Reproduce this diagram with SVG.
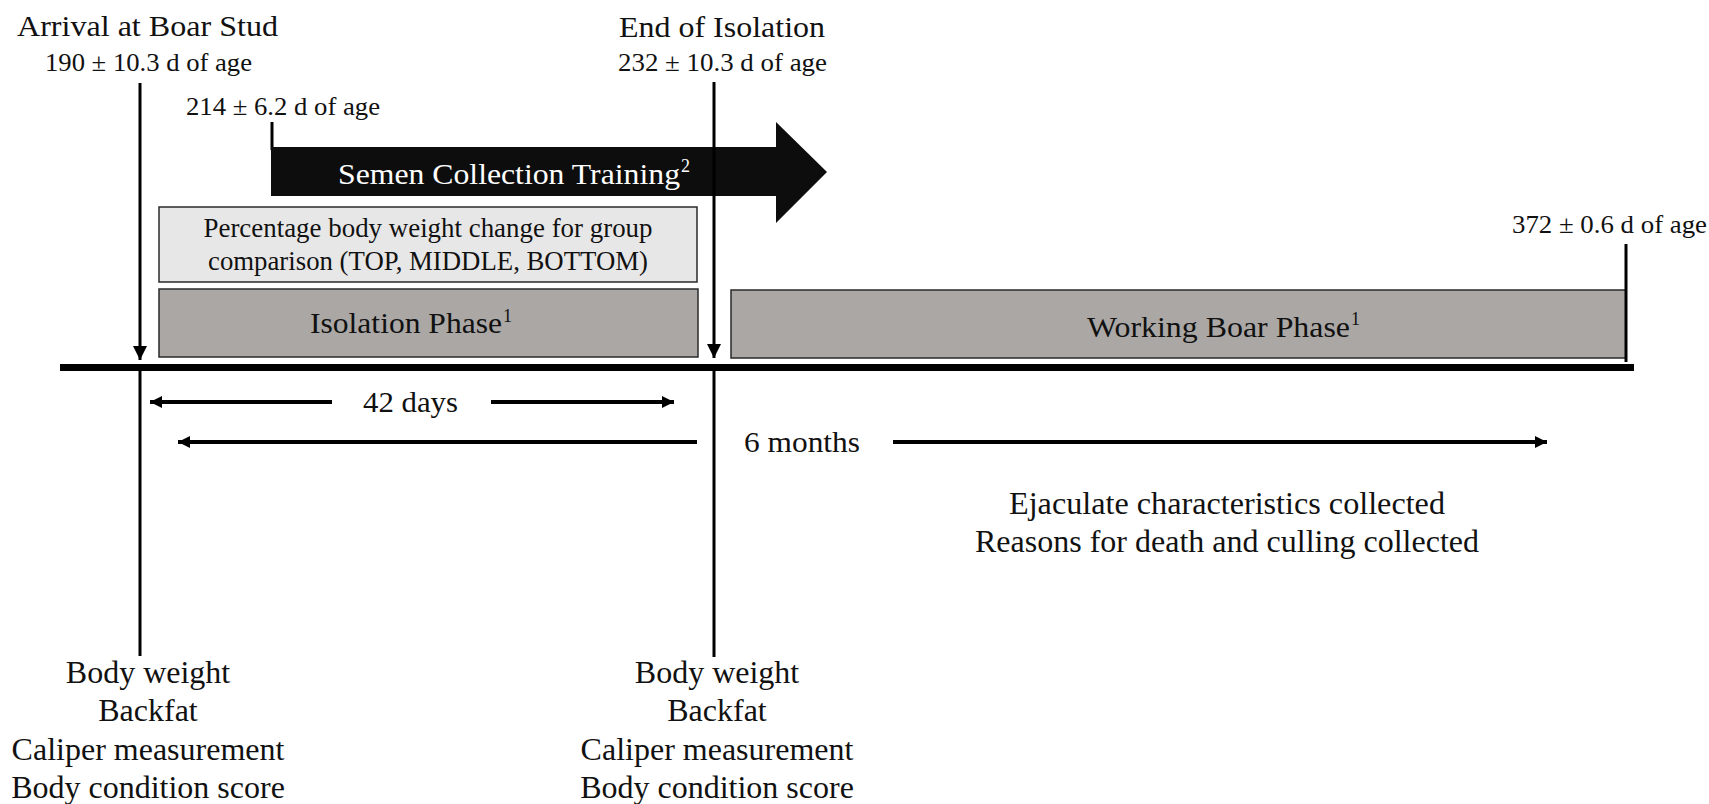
<svg xmlns="http://www.w3.org/2000/svg" width="1709" height="804" viewBox="0 0 1709 804">
<style>
text{font-family:"Liberation Serif","Times New Roman",serif;fill:#111;}
.t30{font-size:30px;}
.t26{font-size:26px;}
.t27{font-size:27px;}
.t32{font-size:32px;}
.mid{text-anchor:middle;}
.sup{font-size:18px;}
.ln{stroke:#000;stroke-width:3;fill:none;}
.arr{stroke:#000;stroke-width:4;fill:none;}
.phase{fill:#aaa7a5;stroke:#2a2a2a;stroke-width:1.5;}
.light{fill:#e8e7e7;stroke:#2a2a2a;stroke-width:1.5;}
</style>
<defs>
<marker id="ah" markerUnits="userSpaceOnUse" markerWidth="16" markerHeight="14" refX="14" refY="7" orient="auto">
<path d="M0,0 L14,7 L0,14 Z" fill="#000"/>
</marker>
<marker id="ahs" markerUnits="userSpaceOnUse" markerWidth="16" markerHeight="14" refX="12" refY="6" orient="auto">
<path d="M0,0 L12,6 L0,12 Z" fill="#000"/>
</marker>
</defs>
<rect width="1709" height="804" fill="#fff"/>

<g id="timeline">
<line x1="60" y1="367.5" x2="1634" y2="367.5" stroke="#000" stroke-width="7"/>
</g>

<g id="semen-training">
<line class="ln" x1="272" y1="122" x2="272" y2="150"/>
<path d="M271,147 L776,147 L776,122 L827,172 L776,223 L776,196 L271,196 Z" fill="#0d0d0d"/>
<text class="t30" x="338" y="184" fill="#fff" style="fill:#fff" textLength="342" lengthAdjust="spacingAndGlyphs">Semen Collection Training</text>
<text class="sup" x="681" y="172" style="fill:#fff">2</text>
<text class="t26" x="186" y="115" textLength="194" lengthAdjust="spacingAndGlyphs">214 ± 6.2 d of age</text>
</g>

<g id="weight-change">
<rect class="light" x="159" y="207" width="538" height="75"/>
<text class="t27 mid" x="428" y="237" textLength="449" lengthAdjust="spacingAndGlyphs">Percentage body weight change for group</text>
<text class="t27 mid" x="428" y="270" textLength="440" lengthAdjust="spacingAndGlyphs">comparison (TOP, MIDDLE, BOTTOM)</text>
</g>

<g id="isolation-phase">
<rect class="phase" x="159" y="289" width="539" height="68"/>
<text class="t30" x="310" y="333" textLength="192" lengthAdjust="spacingAndGlyphs">Isolation Phase</text>
<text class="sup" x="503" y="322">1</text>
</g>

<g id="working-phase">
<rect class="phase" x="731" y="290" width="895" height="68"/>
<text class="t30" x="1087" y="337" textLength="263" lengthAdjust="spacingAndGlyphs">Working Boar Phase</text>
<text class="sup" x="1351" y="325">1</text>
<line class="ln" x1="1626" y1="244" x2="1626" y2="362" stroke-width="4"/>
<text class="t26" x="1512" y="233" textLength="195" lengthAdjust="spacingAndGlyphs">372 ± 0.6 d of age</text>
</g>

<g id="arrival">
<text class="t30" x="17" y="36" textLength="261" lengthAdjust="spacingAndGlyphs">Arrival at Boar Stud</text>
<text class="t26" x="45" y="71" textLength="207" lengthAdjust="spacingAndGlyphs">190 ± 10.3 d of age</text>
<text class="t32 mid" x="148" y="683">Body weight</text>
<text class="t32 mid" x="148" y="721">Backfat</text>
<text class="t32 mid" x="148" y="760">Caliper measurement</text>
<text class="t32 mid" x="148" y="798">Body condition score</text>
</g>

<g id="end-of-isolation">
<text class="t30" x="619" y="37" textLength="206" lengthAdjust="spacingAndGlyphs">End of Isolation</text>
<text class="t26" x="618" y="71" textLength="209" lengthAdjust="spacingAndGlyphs">232 ± 10.3 d of age</text>
<text class="t32 mid" x="717" y="683">Body weight</text>
<text class="t32 mid" x="717" y="721">Backfat</text>
<text class="t32 mid" x="717" y="760">Caliper measurement</text>
<text class="t32 mid" x="717" y="798">Body condition score</text>
</g>

<g id="working-notes">
<text class="t32 mid" x="1227" y="514" textLength="436" lengthAdjust="spacingAndGlyphs">Ejaculate characteristics collected</text>
<text class="t32 mid" x="1227" y="552" textLength="504" lengthAdjust="spacingAndGlyphs">Reasons for death and culling collected</text>
</g>

<g id="durations">
<text class="t30" x="363" y="412" textLength="95" lengthAdjust="spacingAndGlyphs">42 days</text>
<text class="t30" x="744" y="452" textLength="116" lengthAdjust="spacingAndGlyphs">6 months</text>
</g>

<g id="connectors">
<line class="ln" x1="140" y1="83" x2="140" y2="360" marker-end="url(#ah)"/>
<line class="ln" x1="140" y1="367" x2="140" y2="656"/>
<line class="ln" x1="714" y1="82" x2="714" y2="358" marker-end="url(#ah)"/>
<line class="ln" x1="714" y1="367" x2="714" y2="657"/>
<line class="arr" x1="332" y1="402" x2="150" y2="402" marker-end="url(#ahs)"/>
<line class="arr" x1="491" y1="402" x2="674" y2="402" marker-end="url(#ahs)"/>
<line class="arr" x1="697" y1="442" x2="178" y2="442" marker-end="url(#ahs)"/>
<line class="arr" x1="893" y1="442" x2="1547" y2="442" marker-end="url(#ahs)"/>
</g>
</svg>
